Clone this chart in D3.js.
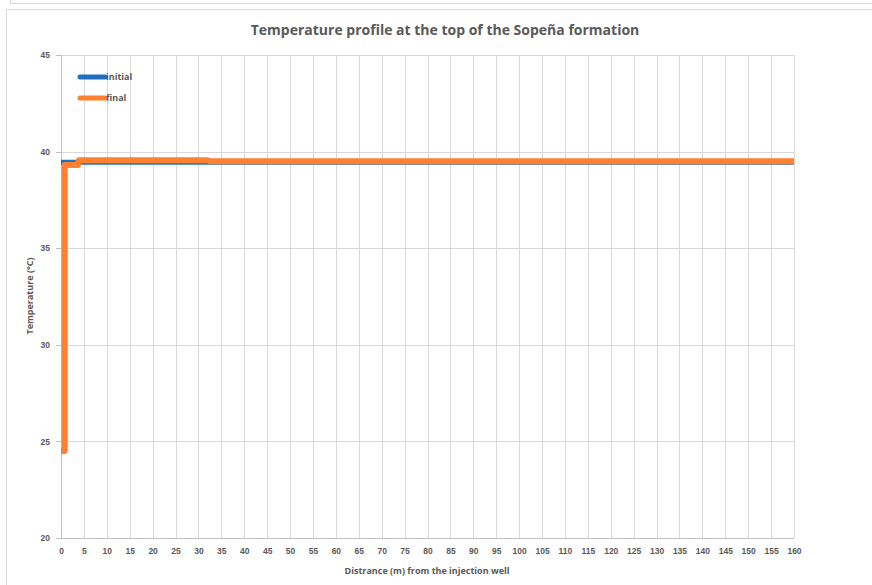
<!DOCTYPE html>
<html>
<head>
<meta charset="utf-8">
<title>Temperature profile</title>
<style>
  body { margin: 0; background: white; font-family: "Open Sans", "Liberation Sans", sans-serif; }
  svg { display: block; }
  .grid line { stroke: #d9d9d9; stroke-width: 1; shape-rendering: crispEdges; }
  .axis path, .axis line { stroke: #bfbfbf; shape-rendering: crispEdges; }
  .axis text { fill: #595959; font-size: 8.5px; font-weight: bold; }
</style>
</head>
<body>
<div id="chart"></div>
<script src="https://cdnjs.cloudflare.com/ajax/libs/d3/7.8.5/d3.min.js"></script>
<script>
// data
var initialX = [0, 160];
var initialT = [39.45, 39.45];
var finalX = [0, 0.8, 0.8, 3.7, 3.9, 32, 32.5, 160];
var finalT = [24.5, 24.5, 39.3, 39.3, 39.55, 39.55, 39.5, 39.5];
var xTicks = d3.range(0, 161, 5);
var yTicks = [20, 25, 30, 35, 40, 45];
var seriesNames = ["initial", "final"];

var W = 872, H = 585;
var margin = { left: 61, right: 78, top: 55, bottom: 47 };

var svg = d3.select("#chart").append("svg")
  .attr("width", W).attr("height", H);

// frames
svg.append("path").attr("d", "M10.5,0 V3.5 H872")
  .attr("fill", "none").attr("stroke", "#d9d9d9");
svg.append("rect").attr("x", 6.5).attr("y", 9.5).attr("width", 900).attr("height", 600)
  .attr("fill", "white").attr("stroke", "#d9d9d9");

var x = d3.scaleLinear().domain([0, 160]).range([margin.left, W - margin.right]);
var y = d3.scaleLinear().domain([20, 45]).range([H - margin.bottom, margin.top]);

// gridlines
var g = svg.append("g").attr("class", "grid");
g.selectAll("line.v").data(xTicks.slice(1)).enter().append("line")
  .attr("x1", function(d) { return Math.round(x(d)) + 0.5; })
  .attr("x2", function(d) { return Math.round(x(d)) + 0.5; })
  .attr("y1", y(45)).attr("y2", y(20));
g.selectAll("line.h").data(yTicks.slice(1)).enter().append("line")
  .attr("x1", x(0)).attr("x2", x(160))
  .attr("y1", function(d) { return Math.round(y(d)) + 0.5; })
  .attr("y2", function(d) { return Math.round(y(d)) + 0.5; });

// axes
svg.append("g").attr("class", "axis")
  .attr("transform", "translate(0," + y(20) + ")")
  .call(d3.axisBottom(x).tickValues(xTicks).tickSize(0).tickPadding(10))
  .call(function(s) { s.select(".domain").attr("d", "M" + x(0) + ",0.5H" + x(160)); });
svg.append("g").attr("class", "axis")
  .attr("transform", "translate(" + x(0) + ",0)")
  .call(d3.axisLeft(y).tickValues(yTicks).tickSize(5).tickPadding(6))
  .call(function(s) {
    s.selectAll(".tick line").attr("x1", -5).attr("x2", 0);
    s.select(".domain").attr("d", "M0.5," + y(45) + "V" + y(20));
    s.selectAll(".tick text").attr("font-size", "9px");
  });

// lines
var line = d3.line().x(function(d) { return x(d[0]); }).y(function(d) { return y(d[1]); });
var initialData = d3.zip(initialX, initialT);
var finalData = d3.zip(finalX, finalT);
svg.append("path").datum(initialData).attr("d", line)
  .attr("fill", "none").attr("stroke", "#1f70c1").attr("stroke-width", 5);
svg.append("path").datum(finalData).attr("d", line)
  .attr("fill", "none").attr("stroke", "#ff8030").attr("stroke-width", 6)
  .attr("stroke-linejoin", "round");

// legend
var colors = ["#1f70c1", "#ff8030"];
var leg = svg.append("g").attr("transform", "translate(80,77)");
seriesNames.forEach(function(n, i) {
  leg.append("line").attr("x1", 0).attr("x2", 25).attr("y1", i * 21).attr("y2", i * 21)
    .attr("stroke", colors[i]).attr("stroke-width", 5).attr("stroke-linecap", "round");
  leg.append("text").attr("x", 26).attr("y", i * 21 + 3).text(n)
    .attr("font-size", "9px").attr("font-weight", "bold").attr("fill", "#595959");
});

// titles
svg.append("text").attr("x", 445).attr("y", 35).attr("text-anchor", "middle")
  .attr("font-size", "14px").attr("font-weight", "bold").attr("fill", "#595959")
  .text("Temperature profile at the top of the Sopeña formation");
svg.append("text").attr("x", 427).attr("y", 574).attr("text-anchor", "middle")
  .attr("font-size", "9px").attr("font-weight", "bold").attr("fill", "#595959")
  .text("Distrance (m) from the injection well");
svg.append("text").attr("transform", "translate(33,296) rotate(-90)").attr("text-anchor", "middle")
  .attr("font-size", "9px").attr("font-weight", "bold").attr("fill", "#595959")
  .text("Temperature (°C)");
</script>
</body>
</html>
